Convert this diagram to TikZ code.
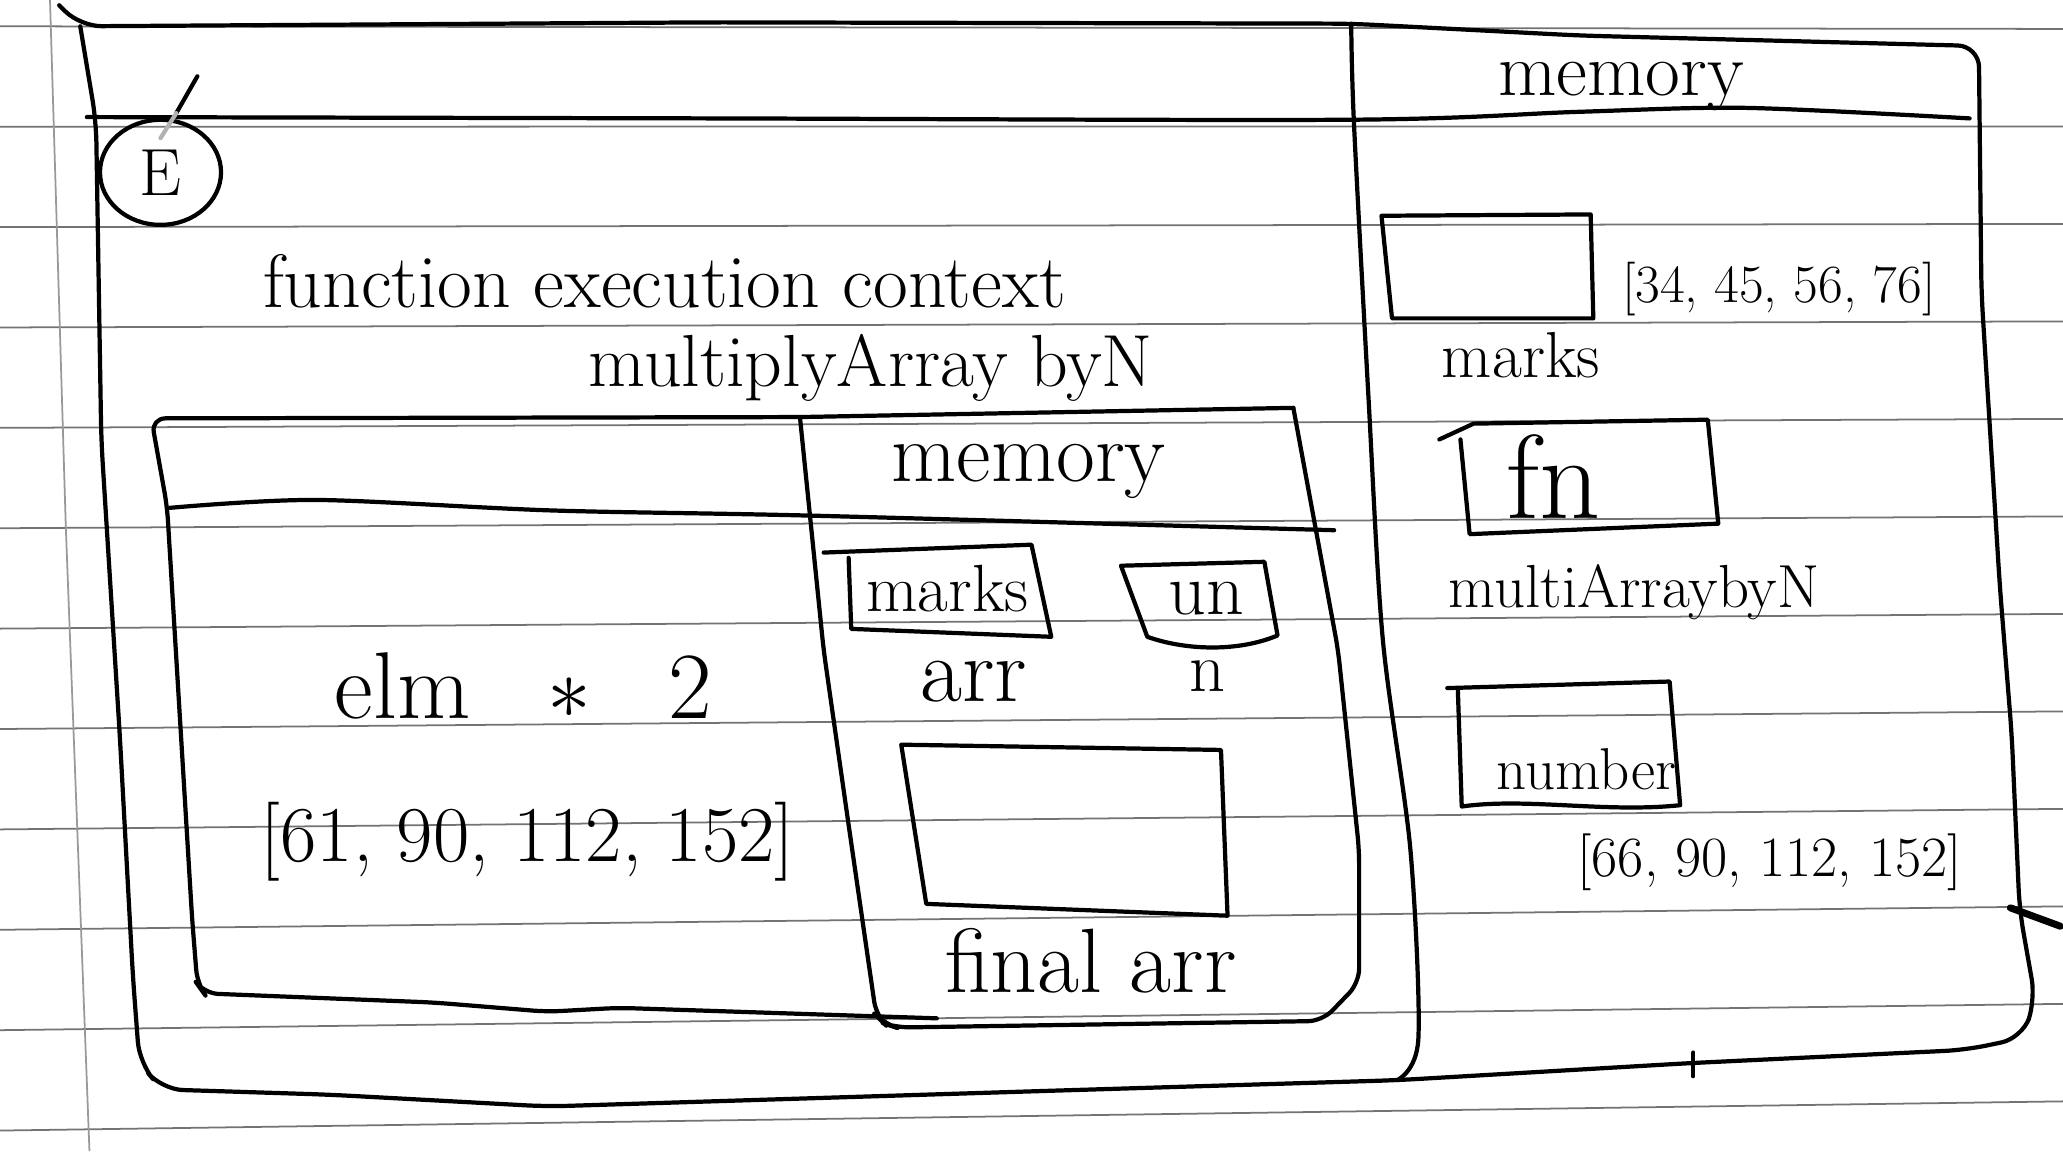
\documentclass[tikz,border=0pt]{standalone}
\usepackage{fontspec}
\usetikzlibrary{shapes.geometric}
\newcommand{\fs}[1]{\fontsize{#1}{#1}\selectfont}
\tikzset{
  pen/.style={line width=1.2pt, line join=round, line cap=round},
  rule/.style={black!55, line width=0.5pt},
  hand/.style={inner sep=0pt, anchor=center},
}

\begin{document}
\begin{tikzpicture}[x=0.013157cm,y=-0.013157cm]
  \useasboundingbox (0,0) rectangle (1568,875);
  \fill[white] (0,0) rectangle (1568,875);
%
  % ruled paper
  \foreach \i in {0,...,11}
    \draw[rule] (0,{20+76.3*\i}) -- (1568,{22+74.1*\i});
  \draw[rule, black!40] (38,0) -- (50,400) -- (68,875);
%
  % outer frame
  \draw[pen, rounded corners=6] (45,4) -- (61,20) -- (540,17) -- (1027,18)
    -- (1200,27) -- (1504,35) -- (1506,223) -- (1520,446) -- (1529,558)
    -- (1535,692) -- (1547,760) -- (1537,789) -- (1494,798) -- (1285,808)
    -- (1062,821) -- (800,829) -- (416,841) -- (250,832) -- (123,828)
    -- (106,808) -- (101,742) -- (91,558) -- (77,335) -- (73,92) -- (61,20);
  \draw[pen] plot[smooth] coordinates {(1027,18) (1029,92) (1040,300)
    (1051,486) (1072,646) (1078,790) (1062,821)};
  \draw[pen] plot[smooth] coordinates {(66,89) (540,90) (1027,91)
    (1200,85) (1327,82) (1497,90)};
  \draw[pen] (1287,800) -- (1287,818);
  \draw[line width=2pt, line cap=round] (1528,690) -- (1566,704);
%
  % context tag
  \node[hand, draw, pen, ellipse, minimum width=1.21cm, minimum height=1.05cm,
        font=\fs{19}] (ctxE) at (122,131) {E};
  \draw[pen] (150,58) -- (134,86);
  \draw[pen, black!30] (134,86) -- (122,105);
%
  \node[hand, font=\fs{21.5}] (ctxtitle) at (505,214) {function execution context};
  \node[hand, font=\fs{21}] (ctxname) at (662,280) {multiplyArray byN};
%
  % function execution context box
  \draw[pen, rounded corners=4] (983,310) -- (608,317) -- (115,318) -- (127,385)
    -- (146,698) -- (150,748) -- (155,755) -- (330,762) -- (416,769)
    -- (470,766) -- (712,774);
  \draw[pen] plot[smooth] coordinates {(129,386) (240,380) (420,388)
    (620,392) (1014,403)};
  \draw[pen, rounded corners=4] (608,317) -- (626,494) -- (645,627)
    -- (666,772) -- (672,778) -- (681,781) -- (1005,776) -- (1033,747)
    -- (1033,646) -- (1017,494) -- (983,310);
%
  \node[hand, font=\fs{27}] (code) at (398,521)
    {elm\hspace{22pt}$\ast$\hspace{22pt}2};
  \node[hand, font=\fs{22.5}] (result) at (401,640) {[61, 90, 112, 152]};
%
  % local memory
  \node[hand, font=\fs{24}] (memlocal) at (782,358) {memory};
  \draw[pen] (626,420) -- (784,414) -- (799,484) -- (647,478) -- (645,424);
  \node[hand, font=\fs{19}] (argval) at (720,447) {marks};
  \node[hand, font=\fs{26}] (argname) at (740,518) {arr};
  \draw[pen] (852,430) -- (961,427) -- (971,483)
    .. controls (940,496) and (900,494) .. (872,484) -- cycle;
  \node[hand, font=\fs{21}] (nval) at (917,455) {un};
  \node[hand, font=\fs{20}] (nname) at (918,514) {n};
  \draw[pen] (685,566) -- (928,570) -- (933,696) -- (704,687) -- cycle;
  \node[hand, font=\fs{26}] (finalname) at (829,730) {final arr};
%
  % global memory
  \node[hand, font=\fs{21.5}] (memglobal) at (1232,66) {memory};
  \draw[pen] (1050,164) -- (1209,163) -- (1211,242) -- (1058,242) -- cycle;
  \node[hand, font=\fs{15.3}] (marksval) at (1352,220) {[34, 45, 56, 76]};
  \node[hand, font=\fs{18.5}] (marksname) at (1156,270) {marks};
  \draw[pen] (1094,334) -- (1120,322) -- (1298,319) -- (1306,398)
    -- (1117,406) -- (1110,334);
  \node[hand, font=\fs{34}] (fnval) at (1181,362) {fn};
  \node[hand, font=\fs{17.3}] (fnname) at (1242,450) {multiArraybyN};
  \draw[pen] (1100,523) -- (1269,518) -- (1277,612)
    .. controls (1220,618) and (1160,606) .. (1111,613) -- (1108,523);
  \node[hand, font=\fs{16.8}] (numval) at (1206,585) {number};
  \node[hand, font=\fs{16.2}] (numname) at (1345,655) {[66, 90, 112, 152]};
\end{tikzpicture}
\end{document}
